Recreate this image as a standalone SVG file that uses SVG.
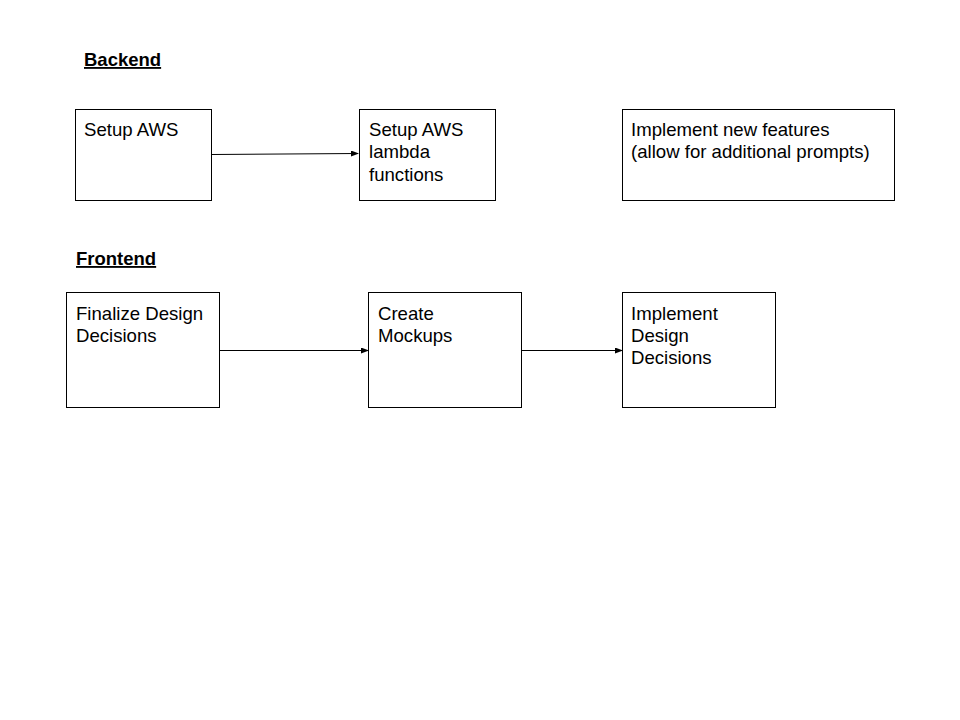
<svg xmlns="http://www.w3.org/2000/svg" width="960" height="720" viewBox="0 0 960 720">
<style>
.box{fill:#fff;stroke:#000;stroke-width:1}
.t{font-family:"Liberation Sans",Arial,sans-serif;font-size:18.6px;fill:#000}
.h{font-family:"Liberation Sans",Arial,sans-serif;font-size:18.5px;font-weight:bold;text-decoration:underline;fill:#000}
.c{stroke:#000;stroke-width:1;fill:none;marker-end:url(#ah)}
</style>
<defs>
<marker id="ah" markerWidth="8" markerHeight="6" refX="7" refY="3" orient="auto" markerUnits="userSpaceOnUse">
<path d="M0,0 L8,3 L0,6 Z" fill="#000"/>
</marker>
</defs>
<rect width="960" height="720" fill="#fff"/>
<text class="h" x="84" y="66">Backend</text>
<text class="h" x="76" y="265">Frontend</text>
<g id="setup-aws">
<rect class="box" x="75.5" y="109.5" width="136" height="91"/>
<text class="t" x="84" y="136">Setup AWS</text>
</g>
<g id="setup-lambda">
<rect class="box" x="359.5" y="109.5" width="136" height="91"/>
<text class="t" x="369" y="136">Setup AWS</text>
<text class="t" x="369" y="158">lambda</text>
<text class="t" x="369" y="181">functions</text>
</g>
<g id="implement-features">
<rect class="box" x="622.5" y="109.5" width="272" height="91"/>
<text class="t" x="631" y="136">Implement new features</text>
<text class="t" x="631" y="158">(allow for additional prompts)</text>
</g>
<g id="finalize-design">
<rect class="box" x="66.5" y="292.5" width="153" height="115"/>
<text class="t" x="76" y="320">Finalize Design</text>
<text class="t" x="76" y="342">Decisions</text>
</g>
<g id="create-mockups">
<rect class="box" x="368.5" y="292.5" width="153" height="115"/>
<text class="t" x="378" y="320">Create</text>
<text class="t" x="378" y="342">Mockups</text>
</g>
<g id="implement-design">
<rect class="box" x="622.5" y="292.5" width="153" height="115"/>
<text class="t" x="631" y="320">Implement</text>
<text class="t" x="631" y="342">Design</text>
<text class="t" x="631" y="364">Decisions</text>
</g>
<g id="connectors">
<path class="c" d="M211.5,154.5 L358,153.5"/>
<path class="c" d="M219.5,350.5 L368,350.5"/>
<path class="c" d="M521.5,350.5 L622,350.5"/>
</g>
</svg>
